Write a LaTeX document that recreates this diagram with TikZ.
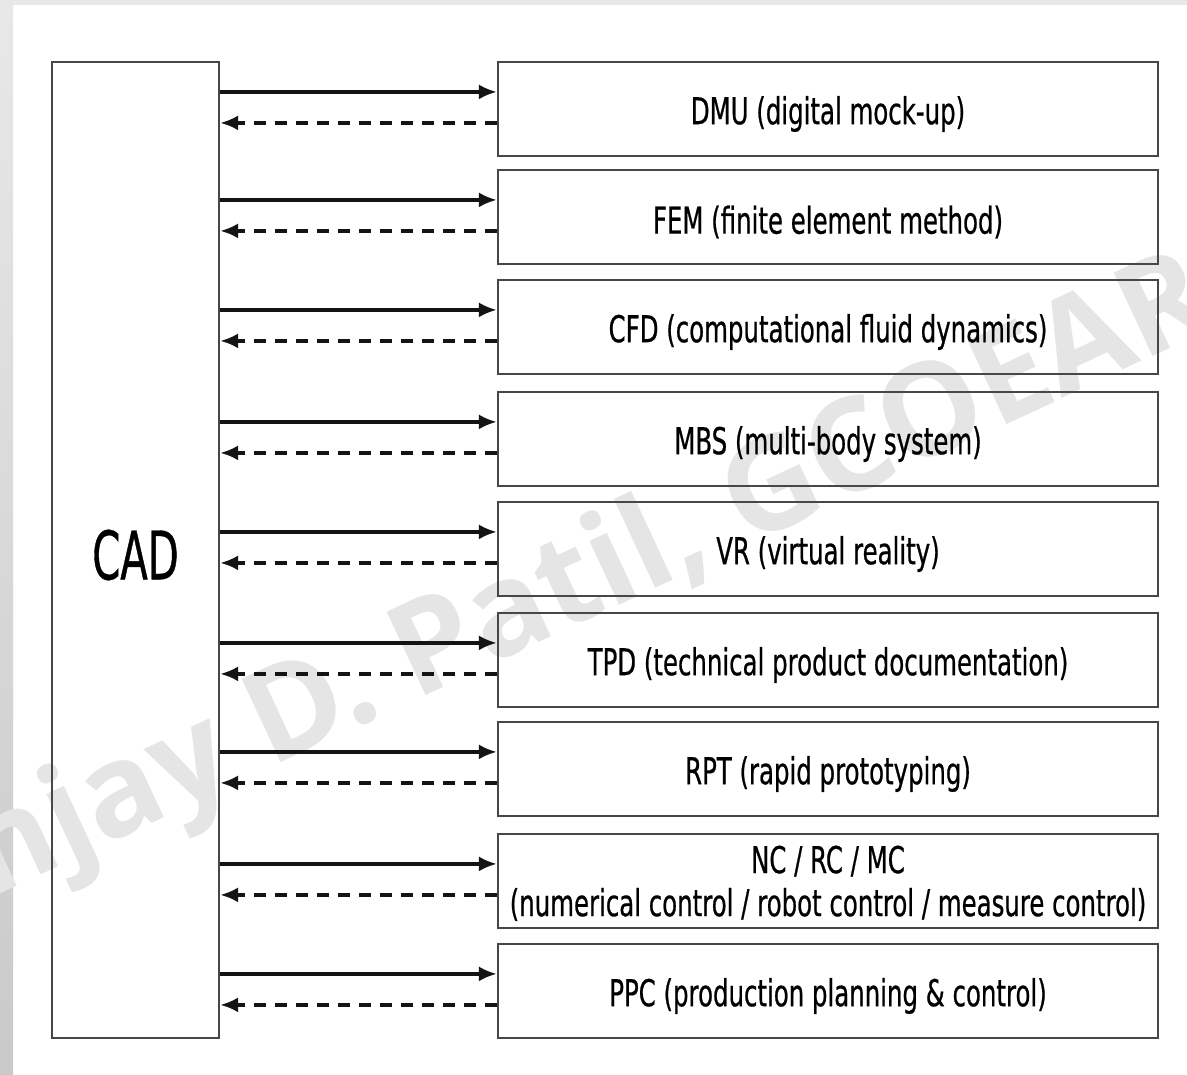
\documentclass[tikz,border=0pt]{standalone}
\usepackage{fontspec}
\setmainfont[FakeStretch=0.66,FakeBold=0.6]{DejaVu Sans}
\newfontfamily\cadfont[FakeStretch=0.6,FakeBold=0.6]{DejaVu Sans}
\newfontfamily\wmfont{Open Sans}
\newcommand\lowertext[1]{\raisebox{-5pt}[\height][\depth]{#1}}
\usetikzlibrary{arrows.meta,calc}
\begin{document}
\begin{tikzpicture}[x=1pt,y=-1pt,
  appbox/.style={draw=black!72, line width=2.2pt, minimum width=660pt, minimum height=94pt,
    inner sep=0pt, align=center, font=\fontsize{37}{43}\selectfont},
  cadbox/.style={draw=black!72, line width=2.2pt, minimum width=167pt, minimum height=976pt,
    inner sep=0pt, font=\cadfont\fontsize{67}{67}\selectfont},
  fwd/.style={line width=3.4pt, draw=black!92, -{Latex[length=18pt,width=15pt]}},
  bwd/.style={line width=3.4pt, draw=black!92, dash pattern=on 12pt off 9pt, -{Latex[length=18pt,width=15pt]}},
  wmark/.style={text=black!10, font=\wmfont\bfseries\fontsize{129}{129}\selectfont, inner sep=0pt}
]
\useasboundingbox (0,0) rectangle (1187,1075);
% background
\fill[white] (0,0) rectangle (1187,1075);
\fill[black!9] (0,0) rectangle (1187,5);
\shade[top color=black!9, bottom color=black!21] (0,0) rectangle (13,1075);
% watermark
\begin{scope}
\clip (0,0) rectangle (1187,1075);
\node[wmark, rotate=25, anchor=base west] (wm) at (270,768) {\llap{Sanjay\ }D. Patil, GCOEARA};
\end{scope}
% nodes
\node[cadbox] (cad) at (135.5,550) {\lowertext{CAD}};
\node[appbox] (b1) at (828,109) {\lowertext{DMU (digital mock-up)}};
\node[appbox] (b2) at (828,217) {\lowertext{FEM (finite element method)}};
\node[appbox] (b3) at (828,327) {\lowertext{CFD (computational fluid dynamics)}};
\node[appbox] (b4) at (828,439) {\lowertext{MBS (multi-body system)}};
\node[appbox] (b5) at (828,549) {\lowertext{VR (virtual reality)}};
\node[appbox] (b6) at (828,660) {\lowertext{TPD (technical product documentation)}};
\node[appbox] (b7) at (828,769) {\lowertext{RPT (rapid prototyping)}};
\node[appbox] (b8) at (828,881) {\lowertext{\begin{tabular}{@{}c@{}}NC / RC / MC\\(numerical control / robot control / measure control)\end{tabular}}};
\node[appbox] (b9) at (828,991) {\lowertext{PPC (production planning \& control)}};
% connectors
\foreach \b in {b1,b2,b3,b4,b5,b6,b7,b8,b9}{
  \draw[fwd] ($(cad.east |- \b.north)+(0,31)$) -- ($(\b.north west)+(0,31)$);
  \draw[bwd] ($(\b.north west)+(0,62)$) -- ($(cad.east |- \b.north)+(0,62)$);
}
\end{tikzpicture}
\end{document}
